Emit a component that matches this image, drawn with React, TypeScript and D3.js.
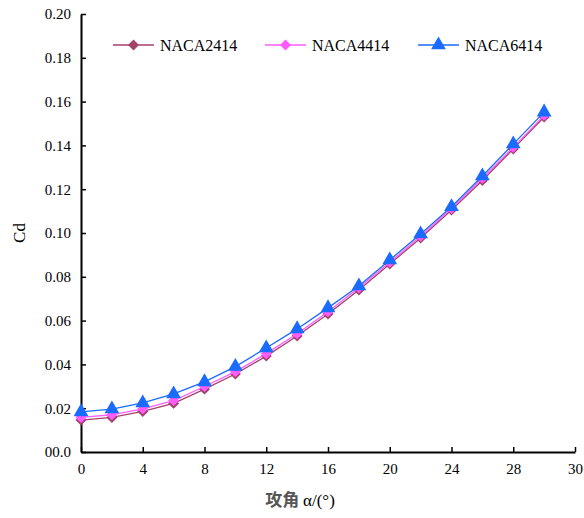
import React, { useEffect, useRef } from 'react';
import * as d3 from 'd3';

const angles = [0, 2, 4, 6, 8, 10, 12, 14, 16, 18, 20, 22, 24, 26, 28, 30];
const naca2414 = [0.0146, 0.0158, 0.0185, 0.0222, 0.0287, 0.0356, 0.0438, 0.0530, 0.0630, 0.0740, 0.0858, 0.0977, 0.1105, 0.1240, 0.1384, 0.1530];
const naca4414 = [0.0158, 0.0170, 0.0197, 0.0235, 0.0299, 0.0367, 0.0449, 0.0540, 0.0640, 0.0750, 0.0866, 0.0985, 0.1112, 0.1250, 0.1391, 0.1537];
const naca6414 = [0.0183, 0.0196, 0.0224, 0.0265, 0.0320, 0.0390, 0.0475, 0.0562, 0.0658, 0.0758, 0.0877, 0.0995, 0.1120, 0.1260, 0.1406, 0.1552];
const seriesNames = ['NACA2414', 'NACA4414', 'NACA6414'];
const xTicks = [0, 4, 8, 12, 16, 20, 24, 28, 32];
const xTickLabels = ['0', '4', '8', '12', '16', '20', '24', '28', '30'];
const yTicks = [0, 0.02, 0.04, 0.06, 0.08, 0.1, 0.12, 0.14, 0.16, 0.18, 0.2];
const yTickLabels = ['00.0', '0.02', '0.04', '0.06', '0.08', '0.10', '0.12', '0.14', '0.16', '0.18', '0.20'];

const SERIF = "'Liberation Serif', 'Times New Roman', Times, 'DejaVu Serif', 'Noto Serif', 'Noto Serif CJK SC', serif";

const App = () => {
  const ref = useRef<SVGSVGElement>(null);

  useEffect(() => {
    const svg = d3.select(ref.current);
    svg.selectAll('*').remove();

    const margin = { top: 14, right: 9, bottom: 66, left: 81 };
    const width = 584, height = 518;
    const x = d3.scaleLinear().domain([0, 32]).range([margin.left, width - margin.right]);
    const y = d3.scaleLinear().domain([0, 0.2]).range([height - margin.bottom, margin.top]);

    const colors = ['#A4416A', '#FF5CFF', '#1A6BFF'];
    const data = [naca2414, naca4414, naca6414];
    // diamonds are squares turned 45 degrees
    const marker = (k: number) =>
      k < 2 ? d3.symbol().type(d3.symbolSquare).size(60)() : d3.symbol().type(d3.symbolTriangle).size(95)();
    const rot = (k: number) => (k < 2 ? ' rotate(45)' : '');

    // axes
    const xAxis = d3.axisBottom(x).tickValues(xTicks).tickSizeInner(-5).tickSizeOuter(0)
      .tickPadding(10).tickFormat((d, i) => xTickLabels[i]);
    const gx = svg.append('g').attr('transform', `translate(0,${y(0)})`).call(xAxis);
    const yAxis = d3.axisLeft(y).tickValues(yTicks).tickSizeInner(-5).tickSizeOuter(0)
      .tickPadding(10).tickFormat((d, i) => yTickLabels[i]);
    const gy = svg.append('g').attr('transform', `translate(${x(0)},0)`).call(yAxis);
    [gx, gy].forEach(g => {
      g.attr('font-family', SERIF).attr('font-size', 15);
      g.select('.domain').attr('stroke', '#000').attr('stroke-width', 2);
      g.selectAll('.tick line').attr('stroke', '#000').attr('stroke-width', 1.5);
      g.selectAll('.tick text').attr('fill', '#000');
    });
    gx.selectAll('.tick text').attr('dy', '0.8em');

    // axis titles
    svg.append('text')
      .attr('transform', `translate(25,${(y(0) + y(0.2)) / 2}) rotate(-90)`)
      .attr('text-anchor', 'middle')
      .attr('font-family', SERIF).attr('font-size', 17)
      .text('Cd');
    const xt = svg.append('text')
      .attr('x', 300).attr('y', 506)
      .attr('text-anchor', 'middle')
      .attr('font-size', 17);
    xt.append('tspan').attr('font-family', "'Noto Sans CJK SC', sans-serif").attr('font-weight', 'bold')
      .attr('fill', '#555').text('攻角 ');
    xt.append('tspan').attr('font-family', SERIF).attr('fill', '#000').text('α/(°)');

    // series
    const line = d3.line<number>().x((d, i) => x(angles[i])).y(d => y(d));
    data.forEach((vals, k) => {
      svg.append('path').datum(vals)
        .attr('d', line).attr('fill', 'none')
        .attr('stroke', colors[k]).attr('stroke-width', 1.3);
      svg.append('g').selectAll('path').data(vals).enter().append('path')
        .attr('transform', (d, i) => `translate(${x(angles[i])},${y(d)})${rot(k)}`)
        .attr('d', marker(k))
        .attr('fill', colors[k]);
    });

    // legend
    const legendX = [113, 265, 418];
    seriesNames.forEach((name, k) => {
      const g = svg.append('g').attr('transform', `translate(${legendX[k]},45)`);
      g.append('line').attr('x1', 0).attr('x2', 41).attr('stroke', colors[k]).attr('stroke-width', 1.3);
      g.append('path').attr('transform', `translate(20.5,0)${rot(k)}`)
        .attr('d', marker(k))
        .attr('fill', colors[k]);
      g.append('text').attr('x', 47).attr('y', 0).attr('dy', '0.35em')
        .attr('font-family', SERIF).attr('font-size', 16)
        .text(name);
    });
  }, []);

  return (
    <svg ref={ref} width={584} height={518}
      style={{ position: 'absolute', left: 0, top: 0, background: '#fff' }} />
  );
};

export default App;
